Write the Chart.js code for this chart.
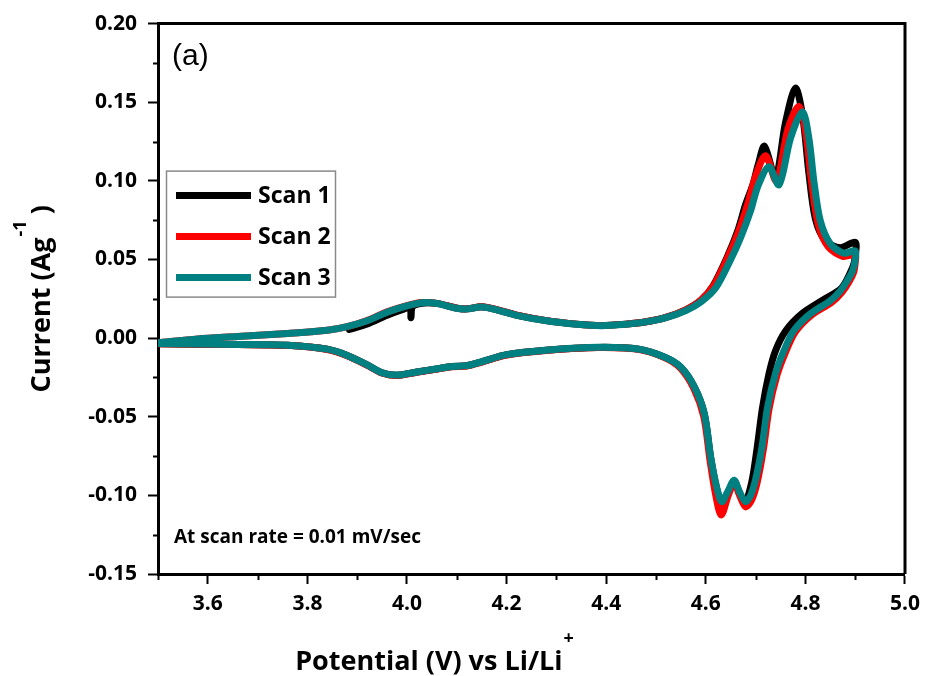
<!DOCTYPE html>
<html>
<head>
<meta charset="utf-8">
<title>Cyclic voltammetry</title>
<script src="https://cdn.jsdelivr.net/npm/chart.js@4.4.0/dist/chart.umd.min.js"></script>
<style>
  html, body { margin: 0; padding: 0; background: #fff; }
  #wrap { width: 927px; height: 676px; }
</style>
</head>
<body>
<div id="wrap"><canvas id="cvChart" width="927" height="676"></canvas></div>
<script>
// scan labels and colours
const scanLabels = ['Scan 1', 'Scan 2', 'Scan 3'];
const scanColors = ['#000000', '#ff0000', '#008080'];

// axis ticks
const xTickValues = [3.6, 3.8, 4.0, 4.2, 4.4, 4.6, 4.8, 5.0];
const yTickValues = [-0.15, -0.10, -0.05, 0.00, 0.05, 0.10, 0.15, 0.20];

// scan 1 - potential (V) and current (A/g), anodic sweep then cathodic sweep
const scan1V = [3.884, 3.92, 3.96, 3.99, 4.006, 4.008, 4.011, 4.03, 4.06, 4.10, 4.12, 4.15, 4.18, 4.22, 4.28, 4.34, 4.39, 4.44, 4.48, 4.52, 4.56, 4.59, 4.615, 4.645, 4.665, 4.68, 4.695, 4.705, 4.718, 4.740, 4.760, 4.780, 4.795, 4.807, 4.820, 4.840, 4.870, 4.90,
  4.90, 4.895, 4.873, 4.833, 4.793, 4.761, 4.740, 4.727, 4.714, 4.703, 4.692, 4.678, 4.668, 4.657, 4.645, 4.632, 4.622, 4.610, 4.597, 4.577, 4.550, 4.517, 4.464, 4.384, 4.284, 4.20, 4.15, 4.12, 4.09, 4.06, 4.02, 3.98, 3.95, 3.92, 3.88, 3.84, 3.76, 3.66, 3.58, 3.50];
const scan1I = [0.0055, 0.0090, 0.0145, 0.0180, 0.0195, 0.0130, 0.0200, 0.0222, 0.0221, 0.0191, 0.0186, 0.0199, 0.0181, 0.0146, 0.0111, 0.0089, 0.0080, 0.0089, 0.0104, 0.0132, 0.0180, 0.0240, 0.0335, 0.0530, 0.0690, 0.0850, 0.0980, 0.1100, 0.1220, 0.1020, 0.1370, 0.1590, 0.1400, 0.1050, 0.0760, 0.0620, 0.0575, 0.0610,
  0.0520, 0.0450, 0.0320, 0.0238, 0.0155, 0.0048, -0.0080, -0.0225, -0.0440, -0.0700, -0.0920, -0.1050, -0.0990, -0.0910, -0.0980, -0.1050, -0.0960, -0.0765, -0.0482, -0.0311, -0.0186, -0.0121, -0.0070, -0.0059, -0.0076, -0.0106, -0.0151, -0.0176, -0.0181, -0.0196, -0.0216, -0.0236, -0.0221, -0.0171, -0.0111, -0.0071, -0.0046, -0.0041, -0.0039, -0.0036];

// scan 2
const scan2V = [3.50, 3.58, 3.66, 3.76, 3.84, 3.88, 3.92, 3.96, 4.00, 4.03, 4.06, 4.10, 4.12, 4.15, 4.18, 4.22, 4.28, 4.34, 4.39, 4.44, 4.48, 4.52, 4.56, 4.59, 4.615, 4.645, 4.665, 4.685, 4.70, 4.72, 4.742, 4.765, 4.787, 4.801, 4.812, 4.826, 4.846, 4.875, 4.90,
  4.90, 4.897, 4.887, 4.873, 4.853, 4.813, 4.780, 4.760, 4.743, 4.727, 4.716, 4.703, 4.692, 4.680, 4.668, 4.657, 4.645, 4.631, 4.620, 4.609, 4.596, 4.576, 4.549, 4.517, 4.464, 4.384, 4.284, 4.20, 4.15, 4.12, 4.09, 4.06, 4.02, 3.98, 3.95, 3.92, 3.88, 3.84, 3.76, 3.66, 3.58, 3.50];
const scan2I = [-0.0030, -0.0005, 0.0010, 0.0030, 0.0050, 0.0073, 0.0112, 0.0167, 0.0207, 0.0226, 0.0221, 0.0191, 0.0186, 0.0199, 0.0181, 0.0146, 0.0111, 0.0089, 0.0080, 0.0089, 0.0104, 0.0132, 0.0180, 0.0240, 0.0330, 0.0520, 0.0670, 0.0860, 0.1030, 0.1160, 0.1000, 0.1330, 0.1474, 0.1300, 0.1000, 0.0720, 0.0580, 0.0520, 0.0530,
  0.0480, 0.0420, 0.0355, 0.0290, 0.0228, 0.0148, 0.0040, -0.0090, -0.0235, -0.0450, -0.0700, -0.0920, -0.1030, -0.1073, -0.1000, -0.0920, -0.1000, -0.1125, -0.1000, -0.0790, -0.0500, -0.0320, -0.0190, -0.0123, -0.0071, -0.0060, -0.0077, -0.0107, -0.0152, -0.0177, -0.0182, -0.0197, -0.0217, -0.0237, -0.0222, -0.0172, -0.0112, -0.0072, -0.0046, -0.0041, -0.0039, -0.0036];

// scan 3
const scan3V = [3.50, 3.58, 3.66, 3.76, 3.84, 3.88, 3.92, 3.96, 4.00, 4.03, 4.06, 4.10, 4.12, 4.15, 4.18, 4.22, 4.28, 4.34, 4.39, 4.44, 4.48, 4.52, 4.56, 4.59, 4.62, 4.65, 4.67, 4.69, 4.705, 4.727, 4.747, 4.77, 4.794, 4.807, 4.817, 4.830, 4.850, 4.877, 4.90,
  4.90, 4.895, 4.884, 4.870, 4.850, 4.810, 4.777, 4.757, 4.740, 4.724, 4.713, 4.700, 4.690, 4.680, 4.668, 4.657, 4.645, 4.632, 4.622, 4.610, 4.597, 4.577, 4.550, 4.517, 4.464, 4.384, 4.284, 4.20, 4.15, 4.12, 4.09, 4.06, 4.02, 3.98, 3.95, 3.92, 3.88, 3.84, 3.76, 3.66, 3.58, 3.50];
const scan3I = [-0.0030, -0.0005, 0.0010, 0.0030, 0.0050, 0.0073, 0.0110, 0.0165, 0.0205, 0.0225, 0.0220, 0.0190, 0.0185, 0.0198, 0.0180, 0.0145, 0.0110, 0.0088, 0.0079, 0.0088, 0.0103, 0.0130, 0.0175, 0.0230, 0.0320, 0.0500, 0.0640, 0.0810, 0.0970, 0.1090, 0.0975, 0.1270, 0.1440, 0.1270, 0.1000, 0.0745, 0.0600, 0.0540, 0.0555,
  0.0500, 0.0430, 0.0365, 0.0300, 0.0238, 0.0155, 0.0048, -0.0080, -0.0225, -0.0440, -0.0690, -0.0900, -0.1000, -0.1040, -0.0980, -0.0904, -0.0970, -0.1040, -0.0950, -0.0760, -0.0480, -0.0310, -0.0185, -0.0120, -0.0069, -0.0058, -0.0075, -0.0105, -0.0150, -0.0175, -0.0180, -0.0195, -0.0215, -0.0235, -0.0220, -0.0170, -0.0110, -0.0070, -0.0045, -0.0040, -0.0038, -0.0035];

const scans = [[scan1V, scan1I], [scan2V, scan2I], [scan3V, scan3I]];

const FONT = '"Open Sans", "DejaVu Sans", sans-serif';

// outer box, minor ticks, axis titles, legend and notes
const decorPlugin = {
  id: 'decor',
  afterDraw(chart) {
    const ctx = chart.ctx;
    const area = chart.chartArea;
    const xs = chart.scales.x, ys = chart.scales.y;
    ctx.save();

    // top and right frame lines
    ctx.strokeStyle = '#000';
    ctx.lineWidth = 3;
    ctx.beginPath();
    ctx.moveTo(area.left, area.top);
    ctx.lineTo(area.right, area.top);
    ctx.lineTo(area.right, area.bottom);
    ctx.stroke();

    // minor ticks halfway between the major ones
    ctx.lineWidth = 2;
    ctx.beginPath();
    for (let i = 0; i < xTickValues.length; i++) {
      const v = xTickValues[i] - 0.1;
      const px = Math.round(xs.getPixelForValue(v)) + 0.5;
      ctx.moveTo(px, area.bottom);
      ctx.lineTo(px, area.bottom + 6);
    }
    for (let i = 0; i < yTickValues.length - 1; i++) {
      const v = (yTickValues[i] + yTickValues[i + 1]) / 2;
      const py = Math.round(ys.getPixelForValue(v)) + 0.5;
      ctx.moveTo(area.left, py);
      ctx.lineTo(area.left - 5, py);
    }
    ctx.stroke();

    // x axis title with superscript
    ctx.fillStyle = '#000';
    ctx.textBaseline = 'alphabetic';
    ctx.textAlign = 'left';
    ctx.font = 'bold 27px ' + FONT;
    const xMain = 'Potential (V) vs Li/Li';
    const wMain = ctx.measureText(xMain).width;
    ctx.font = 'bold 18px ' + FONT;
    const wPlus = ctx.measureText('+').width;
    let sx = 434 - (wMain + wPlus) / 2;
    ctx.font = 'bold 27px ' + FONT;
    ctx.fillText(xMain, sx, 670);
    ctx.font = 'bold 18px ' + FONT;
    ctx.fillText('+', sx + wMain + 1, 644);

    // y axis title, rotated, with superscript
    ctx.save();
    ctx.translate(50, (area.top + area.bottom) / 2);
    ctx.rotate(-Math.PI / 2);
    ctx.font = 'bold 27px ' + FONT;
    const yMain = 'Current (Ag';
    const wy = ctx.measureText(yMain).width;
    ctx.font = 'bold 18px ' + FONT;
    const wSup = ctx.measureText('-1').width;
    ctx.font = 'bold 27px ' + FONT;
    const wClose = ctx.measureText(' )').width;
    let sy = -(wy + wSup + wClose) / 2;
    ctx.fillText(yMain, sy, 0);
    ctx.font = 'bold 18px ' + FONT;
    ctx.fillText('-1', sy + wy + 1, -24);
    ctx.font = 'bold 27px ' + FONT;
    ctx.fillText(' )', sy + wy + wSup, 0);
    ctx.restore();

    // legend box
    const lx = area.left + 8, ly = area.top + 147;
    ctx.strokeStyle = '#8a8a8a';
    ctx.lineWidth = 1.5;
    ctx.strokeRect(lx + 0.5, ly + 0.5, 169, 126);
    ctx.font = 'bold 23px ' + FONT;
    ctx.textBaseline = 'middle';
    chart.data.datasets.forEach((ds, i) => {
      const rowY = ly + 25 + i * 41;
      ctx.strokeStyle = ds.borderColor;
      ctx.lineWidth = 7;
      ctx.beginPath();
      ctx.moveTo(lx + 10, rowY);
      ctx.lineTo(lx + 85, rowY);
      ctx.stroke();
      ctx.fillStyle = '#000';
      ctx.fillText(ds.label, lx + 92, rowY + 1);
    });

    // panel tag and scan rate note
    ctx.font = '30px "Liberation Sans", Arial, sans-serif';
    ctx.fillText('(a)', area.left + 14, area.top + 33);
    ctx.font = 'bold 19px ' + FONT;
    ctx.fillText('At scan rate = 0.01 mV/sec', area.left + 16, area.top + 514);

    ctx.restore();
  }
};

new Chart(document.getElementById('cvChart'), {
  type: 'scatter',
  data: {
    datasets: scans.map((s, i) => ({
      label: scanLabels[i],
      data: s[0].map((v, k) => ({ x: v, y: s[1][k] })),
      showLine: true,
      borderColor: scanColors[i],
      backgroundColor: scanColors[i],
      borderWidth: 7,
      pointRadius: 0,
      tension: 0.3,
      borderJoinStyle: 'round',
      borderCapStyle: 'round',
      order: 3 - i
    }))
  },
  options: {
    responsive: false,
    animation: false,
    devicePixelRatio: 1,
    layout: { padding: { left: 0, right: 19, top: 22, bottom: 0 } },
    scales: {
      x: {
        type: 'linear',
        min: 3.5,
        max: 5.0,
        afterBuildTicks: (scale) => { scale.ticks = xTickValues.map(v => ({ value: v })); },
        afterFit: (scale) => { scale.height = 102; },
        grid: { drawOnChartArea: false, drawTicks: true, tickLength: 10, tickWidth: 2, tickColor: '#000' },
        border: { display: true, color: '#000', width: 3 },
        ticks: {
          color: '#000',
          padding: 7,
          maxRotation: 0,
          autoSkip: false,
          font: { family: FONT, size: 21, weight: 'bold' },
          callback: (v) => Number(v).toFixed(1)
        }
      },
      y: {
        type: 'linear',
        min: -0.15,
        max: 0.20,
        afterBuildTicks: (scale) => { scale.ticks = yTickValues.map(v => ({ value: v })); },
        afterFit: (scale) => { scale.width = 158; },
        grid: { drawOnChartArea: false, drawTicks: true, tickLength: 10, tickWidth: 2, tickColor: '#000' },
        border: { display: true, color: '#000', width: 3 },
        ticks: {
          color: '#000',
          padding: 11,
          autoSkip: false,
          font: { family: FONT, size: 21, weight: 'bold' },
          callback: (v) => Number(v).toFixed(2)
        }
      }
    },
    plugins: {
      legend: { display: false },
      tooltip: { enabled: false }
    }
  },
  plugins: [decorPlugin]
});
</script>
</body>
</html>
